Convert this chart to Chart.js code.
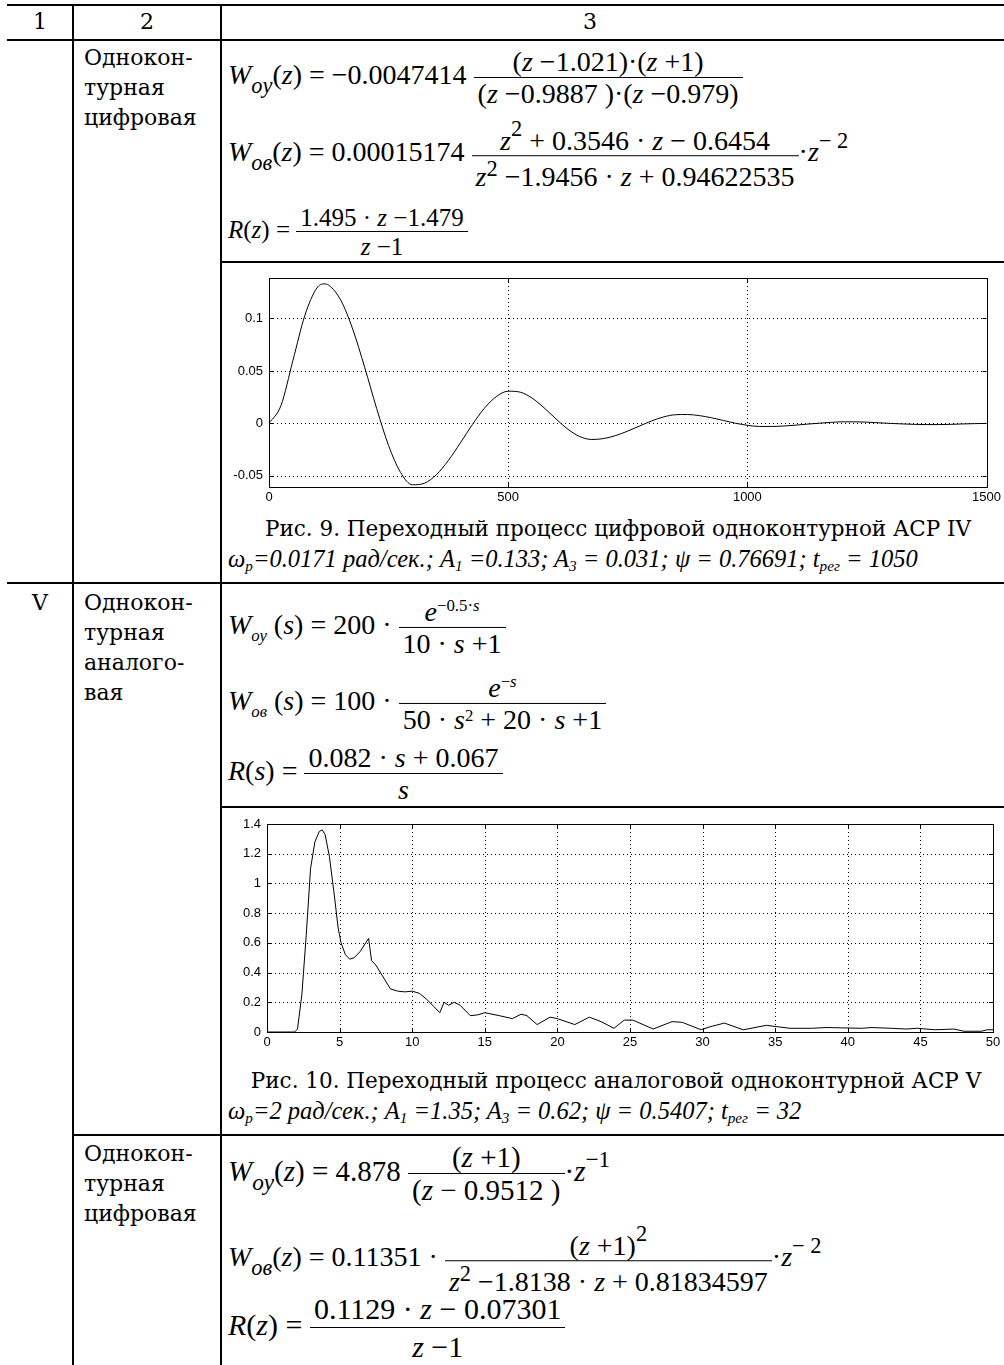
<!DOCTYPE html>
<html><head><meta charset="utf-8">
<script src="https://cdn.jsdelivr.net/npm/chart.js@4.4.1/dist/chart.umd.min.js"></script>
<style>
html,body{margin:0;padding:0;background:#fff;}
body{width:1004px;height:1365px;position:relative;overflow:hidden;font-family:"DejaVu Serif",serif;color:#000;}
.h{position:absolute;height:2px;background:#000;}
.v{position:absolute;width:2px;background:#000;}
.t{position:absolute;font-size:22px;line-height:30px;white-space:nowrap;}
.c{transform:translateX(-50%);}
.eq{position:absolute;font-family:"Liberation Serif","Times New Roman",serif;font-size:28px;white-space:nowrap;line-height:1;transform:translateY(-50%);}
.fr{display:inline-block;vertical-align:middle;text-align:center;}
.fr>span{display:block;}
.fr>.n{border-bottom:1px solid #000;padding:0 4px 1px;}
.fr>.d{padding:2px 4px 0;}
.sub{font-size:0.8em;position:relative;top:0.4em;}
.sup{font-size:0.8em;vertical-align:0.6em;line-height:1;}
.d .sup{vertical-align:0.45em;}
.cap{position:absolute;font-size:21.5px;white-space:nowrap;transform:translate(-50%,-50%);}
.par{position:absolute;font-family:"Liberation Serif","Times New Roman",serif;font-style:italic;font-size:24.5px;white-space:nowrap;transform:translateY(-50%);}
.par sub{font-size:0.62em;vertical-align:-0.2em;}
.chart{position:absolute;}
</style>
</head>
<body>
<!-- table rules -->
<div class="h" style="left:7px;top:4px;width:997px"></div>
<div class="h" style="left:7px;top:39px;width:997px"></div>
<div class="h" style="left:221px;top:261px;width:783px"></div>
<div class="h" style="left:7px;top:582px;width:997px"></div>
<div class="h" style="left:221px;top:806px;width:783px"></div>
<div class="h" style="left:73px;top:1134px;width:931px"></div>
<div class="v" style="left:72px;top:4px;height:1361px"></div>
<div class="v" style="left:220px;top:4px;height:1361px"></div>

<!-- header -->
<div class="t c" style="left:40px;top:7px">1</div>
<div class="t c" style="left:147px;top:7px">2</div>
<div class="t c" style="left:590px;top:7px">3</div>

<!-- row IV, digital -->
<div class="t" style="left:84px;top:43px">Однокон-<br>турная<br>цифровая</div>
<div class="eq" style="left:228px;top:78px"><i>W</i><span class="sub"><i>oy</i></span>(<i>z</i>) = −0.0047414 <span class="fr"><span class="n">(<i>z</i> −1.021)·(<i>z</i> +1)</span><span class="d">(<i>z</i> −0.9887 )·(<i>z</i> −0.979)</span></span></div>
<div class="eq" style="left:228px;top:155px"><i>W</i><span class="sub"><i>ов</i></span>(<i>z</i>) = 0.00015174 <span class="fr"><span class="n"><i>z</i><span class="sup">2</span> + 0.3546 · <i>z</i> − 0.6454</span><span class="d"><i>z</i><span class="sup">2</span> −1.9456 · <i>z</i> + 0.94622535</span></span>·<i>z</i><span class="sup">− 2</span></div>
<div class="eq" style="left:228px;top:232px;font-size:25px"><i>R</i>(<i>z</i>) = <span class="fr"><span class="n">1.495 · <i>z</i> −1.479</span><span class="d"><i>z</i> −1</span></span></div>

<div class="chart" style="left:220px;top:263px;width:784px;height:244px"><canvas id="c1"></canvas></div>
<div class="cap" style="left:618px;top:528px">Рис. 9. Переходный процесс цифровой одноконтурной АСР IV</div>
<div class="par" style="left:228px;top:560px">ω<sub>p</sub>=0.0171 рад/сек.; A<sub>1</sub> =0.133; A<sub>3</sub> = 0.031; ψ = 0.76691; t<sub>рег</sub> = 1050</div>

<!-- row V, analog -->
<div class="t c" style="left:40px;top:588px">V</div>
<div class="t" style="left:84px;top:588px">Однокон-<br>турная<br>аналого-<br>вая</div>
<div class="eq" style="left:228px;top:628px"><i>W</i><span class="sub" style="font-size:0.6em"><i>оу</i></span> (<i>s</i>) = 200 · <span class="fr"><span class="n"><i>e</i><span class="sup" style="font-size:0.6em">−0.5·<i>s</i></span></span><span class="d">10 · <i>s</i> +1</span></span></div>
<div class="eq" style="left:228px;top:704px"><i>W</i><span class="sub" style="font-size:0.6em"><i>ов</i></span> (<i>s</i>) = 100 · <span class="fr"><span class="n"><i>e</i><span class="sup" style="font-size:0.6em">−<i>s</i></span></span><span class="d">50 · <i>s</i><span class="sup" style="font-size:0.6em">2</span> + 20 · <i>s</i> +1</span></span></div>
<div class="eq" style="left:228px;top:774px"><i>R</i>(<i>s</i>) = <span class="fr"><span class="n">0.082 · <i>s</i> + 0.067</span><span class="d"><i>s</i></span></span></div>

<div class="chart" style="left:220px;top:810px;width:784px;height:240px"><canvas id="c2"></canvas></div>
<div class="cap" style="left:616px;top:1080px">Рис. 10. Переходный процесс аналоговой одноконтурной АСР V</div>
<div class="par" style="left:228px;top:1112px">ω<sub>p</sub>=2 рад/сек.; A<sub>1</sub> =1.35; A<sub>3</sub> = 0.62; ψ = 0.5407; t<sub>рег</sub> = 32</div>

<!-- row V, digital -->
<div class="t" style="left:84px;top:1139px">Однокон-<br>турная<br>цифровая</div>
<div class="eq" style="left:228px;top:1174px;font-size:29px"><i>W</i><span class="sub"><i>oy</i></span>(<i>z</i>) = 4.878 <span class="fr"><span class="n">(<i>z</i> +1)</span><span class="d">(<i>z</i> − 0.9512 )</span></span>·<i>z</i><span class="sup">−1</span></div>
<div class="eq" style="left:228px;top:1260px"><i>W</i><span class="sub"><i>ов</i></span>(<i>z</i>) = 0.11351 · <span class="fr"><span class="n">(<i>z</i> +1)<span class="sup">2</span></span><span class="d"><i>z</i><span class="sup">2</span> −1.8138 · <i>z</i> + 0.81834597</span></span>·<i>z</i><span class="sup">− 2</span></div>
<div class="eq" style="left:228px;top:1328px;font-size:30px"><i>R</i>(<i>z</i>) = <span class="fr"><span class="n" style="padding-bottom:3px">0.1129 · <i>z</i> − 0.07301</span><span class="d" style="padding-top:4px"><i>z</i> −1</span></span></div>

<script>
// Fig. 9: digital loop step response
const t1 = [0,25,50,75,100,115,125,150,175,200,225,250,275,300,325,350,375,400,425,450,475,500,525,550,575,600,625,650,675,700,725,750,775,800,825,850,875,900,925,950,975,1000,1025,1050,1075,1100,1125,1150,1175,1200,1225,1250,1275,1300,1325,1350,1375,1400,1425,1450,1475,1500];
const y1 = [0,0.017,0.06,0.103,0.129,0.133,0.1317,0.1175,0.0899,0.0535,0.0143,-0.0211,-0.0467,-0.0585,-0.057,-0.0488,-0.0353,-0.0186,-0.0012,0.0143,0.0255,0.0307,0.0298,0.0241,0.0149,0.0043,-0.0056,-0.0126,-0.0153,-0.0144,-0.0115,-0.0073,-0.0024,0.0024,0.0062,0.0083,0.0085,0.0074,0.0054,0.0028,0.0002,-0.0018,-0.0029,-0.0029,-0.0025,-0.0017,-0.0007,0.0002,0.001,0.0015,0.0015,0.0012,0.0006,0.0,-0.0005,-0.0009,-0.0011,-0.0011,-0.0009,-0.0005,-0.0002,0.0];
const xTicks1 = [0,500,1000,1500];
const yTicks1 = [-0.05,0,0.05,0.1];
const xLabels1 = ['0','500','1000','1500'];
const yLabels1 = ['-0.05','0','0.05','0.1'];

// Fig. 10: analog loop step response
const t2 = [0,1.9,2.1,2.4,2.7,3.0,3.3,3.6,3.8,4.0,4.3,4.6,4.9,5.1,5.4,5.7,6.0,6.4,6.8,7.0,7.2,7.5,8.0,8.5,9.0,9.5,10.0,10.5,11.0,11.5,11.9,12.2,12.5,12.9,13.3,14.0,14.5,15.0,16.0,16.9,17.5,17.9,18.6,19.5,20.0,21.2,22.2,23.0,23.9,24.6,25.2,26.6,27.9,28.6,29.9,30.5,31.5,32.8,34.4,35.2,36,37.5,38.5,39.5,41,41.6,43,44,44.8,46,47.3,48,49.2,49.6,50];
const y2 = [0,0,0.02,0.25,0.65,1.1,1.28,1.35,1.36,1.33,1.18,0.95,0.7,0.6,0.52,0.49,0.5,0.54,0.6,0.63,0.48,0.45,0.37,0.29,0.275,0.27,0.275,0.26,0.22,0.17,0.13,0.2,0.18,0.2,0.18,0.11,0.115,0.13,0.11,0.09,0.12,0.11,0.05,0.1,0.09,0.05,0.1,0.07,0.025,0.08,0.08,0.02,0.07,0.065,0.015,0.035,0.06,0.015,0.045,0.035,0.025,0.025,0.03,0.028,0.025,0.03,0.025,0.02,0.025,0.015,0.02,0.005,0.005,0.015,0.015];
const xTicks2 = [0,5,10,15,20,25,30,35,40,45,50];
const yTicks2 = [0,0.2,0.4,0.6,0.8,1,1.2,1.4];
const xLabels2 = ['0','5','10','15','20','25','30','35','40','45','50'];
const yLabels2 = ['0','0.2','0.4','0.6','0.8','1','1.2','1.4'];

// MATLAB-like axes box: dotted grid, solid frame, inward ticks
const frame = {
  id: 'frame',
  beforeDatasetsDraw(chart) {
    const {ctx, chartArea: a, scales: {x, y}} = chart;
    ctx.save();
    ctx.strokeStyle = '#000';
    ctx.lineWidth = 1;
    ctx.setLineDash([1, 3]);
    ctx.beginPath();
    x.ticks.forEach(tk => {
      const px = Math.round(x.getPixelForValue(tk.value)) + 0.5;
      if (px > a.left + 1 && px < a.right - 1) { ctx.moveTo(px, a.top); ctx.lineTo(px, a.bottom); }
    });
    y.ticks.forEach(tk => {
      const py = Math.round(y.getPixelForValue(tk.value)) + 0.5;
      if (py > a.top + 1 && py < a.bottom - 1) { ctx.moveTo(a.left, py); ctx.lineTo(a.right, py); }
    });
    ctx.stroke();
    ctx.restore();
  },
  afterDatasetsDraw(chart) {
    const {ctx, chartArea: a, scales: {x, y}} = chart;
    ctx.save();
    ctx.strokeStyle = '#000';
    ctx.lineWidth = 1;
    ctx.setLineDash([]);
    ctx.strokeRect(Math.round(a.left) + 0.5, Math.round(a.top) + 0.5, Math.round(a.right - a.left), Math.round(a.bottom - a.top));
    ctx.beginPath();
    const L = 4;
    x.ticks.forEach(tk => {
      const px = Math.round(x.getPixelForValue(tk.value)) + 0.5;
      ctx.moveTo(px, a.bottom); ctx.lineTo(px, a.bottom - L);
      ctx.moveTo(px, a.top); ctx.lineTo(px, a.top + L);
    });
    y.ticks.forEach(tk => {
      const py = Math.round(y.getPixelForValue(tk.value)) + 0.5;
      ctx.moveTo(a.left, py); ctx.lineTo(a.left + L, py);
      ctx.moveTo(a.right, py); ctx.lineTo(a.right - L, py);
    });
    ctx.stroke();
    ctx.restore();
  }
};

function plot(id, xs, ys, xt, yt, xl, yl, xr, yr, pad, yAxisW, xAxisH, smooth) {
  return new Chart(document.getElementById(id), {
    type: 'line',
    data: { datasets: [{ data: xs.map((v, i) => ({x: v, y: ys[i]})), borderColor: '#000', borderWidth: 1, pointRadius: 0, fill: false,
      cubicInterpolationMode: smooth ? 'monotone' : 'default', tension: 0 }] },
    options: {
      responsive: true, maintainAspectRatio: false, animation: false,
      layout: { padding: pad },
      plugins: { legend: { display: false }, tooltip: { enabled: false } },
      scales: {
        x: { type: 'linear', min: xr[0], max: xr[1],
          afterBuildTicks: s => { s.ticks = xt.map(v => ({value: v})); },
          afterFit: s => { s.height = xAxisH; },
          grid: { display: false, drawTicks: false }, border: { display: false },
          ticks: { autoSkip: false, maxRotation: 0, padding: 3, color: '#000', font: { family: 'Liberation Sans', size: 13 },
            callback: (v) => xl[xt.indexOf(v)] } },
        y: { type: 'linear', min: yr[0], max: yr[1],
          afterBuildTicks: s => { s.ticks = yt.map(v => ({value: v})); },
          afterFit: s => { s.width = yAxisW; },
          grid: { display: false, drawTicks: false }, border: { display: false },
          ticks: { autoSkip: false, padding: 6, color: '#000', font: { family: 'Liberation Sans', size: 13 },
            callback: (v) => yl[yt.indexOf(v)] } }
      }
    },
    plugins: [frame]
  });
}

plot('c1', t1, y1, xTicks1, yTicks1, xLabels1, yLabels1, [0, 1500], [-0.0606, 0.1386], {top: 15, right: 14, left: 0, bottom: 0}, 49, 20, true);
plot('c2', t2, y2, xTicks2, yTicks2, xLabels2, yLabels2, [0, 50], [0, 1.4], {top: 14, right: 11, left: 0, bottom: 0}, 47, 18, false);
</script>
</body></html>
